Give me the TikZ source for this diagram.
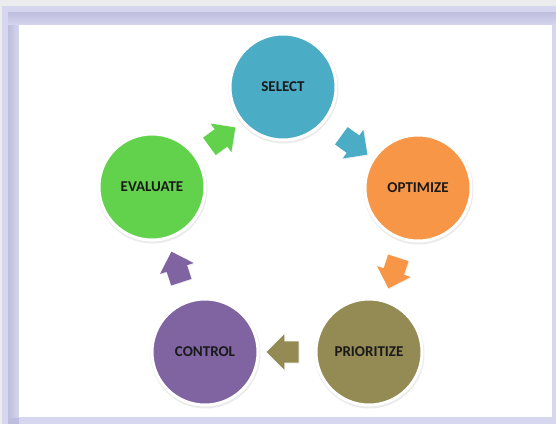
\documentclass[tikz,border=0pt]{standalone}
\usepackage{fontspec}
\setmainfont{Carlito}
\usetikzlibrary{shapes.arrows}

\definecolor{selectc}{HTML}{4BACC6}
\definecolor{optimizec}{HTML}{F79646}
\definecolor{prioritizec}{HTML}{948A54}
\definecolor{controlc}{HTML}{8064A2}
\definecolor{evaluatec}{HTML}{62D24C}
\definecolor{frameouter}{HTML}{D6D6EF}
\definecolor{frameinner}{HTML}{BDBDDD}
\definecolor{pagegray}{HTML}{ECECEE}

\tikzset{
  stage/.style={circle, minimum size=106pt, inner sep=0pt, fill=#1,
    draw=white, line width=3pt, font=\bfseries\fontsize{15}{17}\selectfont,
    text=black!90},
  stageshadow/.style={circle, minimum size=110pt, inner sep=0pt,
    fill=black!30, opacity=0.25},
  flow/.style={single arrow, fill=#1, inner sep=10.5pt, minimum height=32pt,
    single arrow head extend=7pt},
  flowshadow/.style={single arrow, fill=black!30, opacity=0.2, inner sep=10.5pt,
    minimum height=32pt, single arrow head extend=7pt}
}

\begin{document}
\begin{tikzpicture}[x=1pt, y=-1pt]
  \useasboundingbox (0,0) rectangle (556,424);

  % window frame
  \fill[pagegray] (0,0) rectangle (556,424);
  \fill[frameouter] (2,6) rectangle (556,424);
  \fill[frameinner] (8,12) rectangle (556,424);
  \shade[top color=frameinner, bottom color=frameouter] (8,12) rectangle (556,25);
  \shade[left color=frameinner, right color=frameouter] (8,25) rectangle (19,417);
  \fill[frameouter] (19,417) rectangle (556,424);
  \fill[frameouter] (552,25) rectangle (556,417);
  \fill[white] (19,25) rectangle (552,417);

  % soft shadows under the stages
  \foreach \p in {(283.5,88.5),(418.5,189.5),(369.5,353.5),(205.5,353.5),(152.5,188.5)}
    \node[stageshadow] at \p {};

  % stages of the cycle
  \node[stage=selectc]     (select)     at (283,87)  {SELECT};
  \node[stage=optimizec]   (optimize)   at (418,188) {OPTIMIZE};
  \node[stage=prioritizec] (prioritize) at (369,352) {PRIORITIZE};
  \node[stage=controlc]    (control)    at (205,352) {CONTROL};
  \node[stage=evaluatec]   (evaluate)   at (152,187) {EVALUATE};

  % block arrows between the stages
  \node[flowshadow, rotate=36]   at (219,141) {};
  \node[flowshadow, rotate=-36]  at (351,143) {};
  \node[flowshadow, rotate=-108] at (396,269) {};
  \node[flowshadow, rotate=180]  at (289,353) {};
  \node[flowshadow, rotate=108]  at (179,273) {};

  \node[flow=evaluatec, rotate=36]    (a1) at (218,140) {};
  \node[flow=selectc, rotate=-36]     (a2) at (350,142) {};
  \node[flow=optimizec, rotate=-108]  (a3) at (395,268) {};
  \node[flow=prioritizec, rotate=180] (a4) at (288,352) {};
  \node[flow=controlc, rotate=108]    (a5) at (178,272) {};
\end{tikzpicture}
\end{document}
